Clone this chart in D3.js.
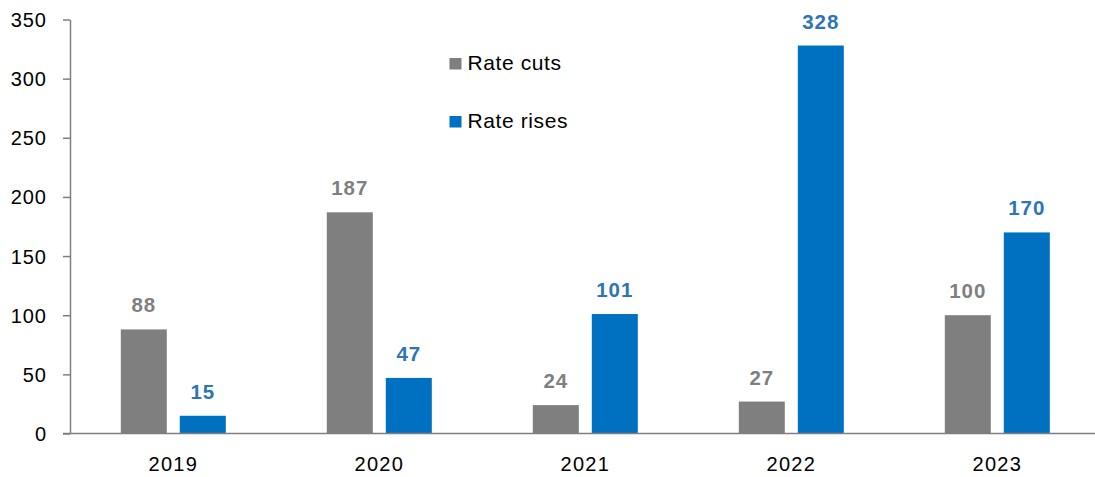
<!DOCTYPE html>
<html><head><meta charset="utf-8">
<script src="https://cdn.jsdelivr.net/npm/d3@7"></script>
<style>
html,body{margin:0;padding:0;background:#fff;}
svg text{font-family:"Liberation Sans",Arial,sans-serif;}
</style></head>
<body>
<svg id="chart" width="1095" height="477"></svg>
<script>
const years = ["2019","2020","2021","2022","2023"];
const rateCuts = [88,187,24,27,100];
const rateRises = [15,47,101,328,170];
const yTicks = [0,50,100,150,200,250,300,350];
const seriesNames = ["Rate cuts","Rate rises"];
const colors = ["#7f7f7f","#0070c0"];
const labelColors = ["#7f7f7f","#2e75b6"];

const svg = d3.select("#chart");
const x0 = d3.scaleBand().domain(years).range([70.3,1100.3]).paddingInner(0).paddingOuter(0);
const y = d3.scaleLinear().domain([0,350]).range([433.5,19.5]);
const step = x0.step();
const barW = 46, gap = 13;
const x1 = d3.scaleOrdinal().domain([0,1]).range([ (step - (2*barW+gap))/2, (step - (2*barW+gap))/2 + barW + gap ]);

const series = [rateCuts, rateRises];

// bars
series.forEach((vals,si)=>{
  svg.append("g").selectAll("rect").data(vals).join("rect")
    .attr("x",(d,i)=>x0(years[i])+x1(si))
    .attr("y",d=>y(d))
    .attr("width",barW)
    .attr("height",d=>y(0)-y(d))
    .attr("fill",colors[si]);
  svg.append("g").selectAll("text").data(vals).join("text")
    .attr("x",(d,i)=>x0(years[i])+x1(si)+barW/2)
    .attr("y",d=>y(d)-17)
    .attr("text-anchor","middle")
    .attr("font-size",20.5)
    .attr("font-weight","bold")
    .attr("letter-spacing","1px")
    .attr("fill",labelColors[si])
    .text(d=>d);
});

// y axis
const yAxis = svg.append("g").attr("transform","translate(70,0)")
  .call(d3.axisLeft(y).tickValues(yTicks).tickSize(7).tickPadding(16).tickSizeOuter(0));
yAxis.select(".domain").attr("stroke","#7f7f7f").attr("stroke-width",1.5);
yAxis.selectAll(".tick line").attr("stroke","#7f7f7f").attr("stroke-width",1.5);
yAxis.selectAll(".tick text").attr("font-size",20).attr("fill","#000").attr("letter-spacing","1px")
  .attr("font-family","Liberation Sans, Arial, sans-serif").attr("dy","0.35em");

// x axis
const xAxis = svg.append("g").attr("transform","translate(0,433.5)")
  .call(d3.axisBottom(x0).tickSize(0).tickPadding(23).tickSizeOuter(0));
xAxis.select(".domain").remove();
svg.append("line").attr("x1",63).attr("x2",1095).attr("y1",y(0)).attr("y2",y(0))
  .attr("stroke","#7f7f7f").attr("stroke-width",1.5);
xAxis.selectAll(".tick text").attr("font-size",20).attr("fill","#000").attr("letter-spacing","1.3px")
  .attr("font-family","Liberation Sans, Arial, sans-serif");

// legend
const legend = svg.append("g");
seriesNames.forEach((name,i)=>{
  const ly = 58 + i*58;
  legend.append("rect").attr("x",449.5).attr("y",ly).attr("width",12).attr("height",11.5).attr("fill",colors[i]);
  legend.append("text").attr("x",467.5).attr("y",ly+12).attr("font-size",21).attr("fill","#000")
    .attr("letter-spacing","0.6px").text(name);
});
</script>
</body></html>
